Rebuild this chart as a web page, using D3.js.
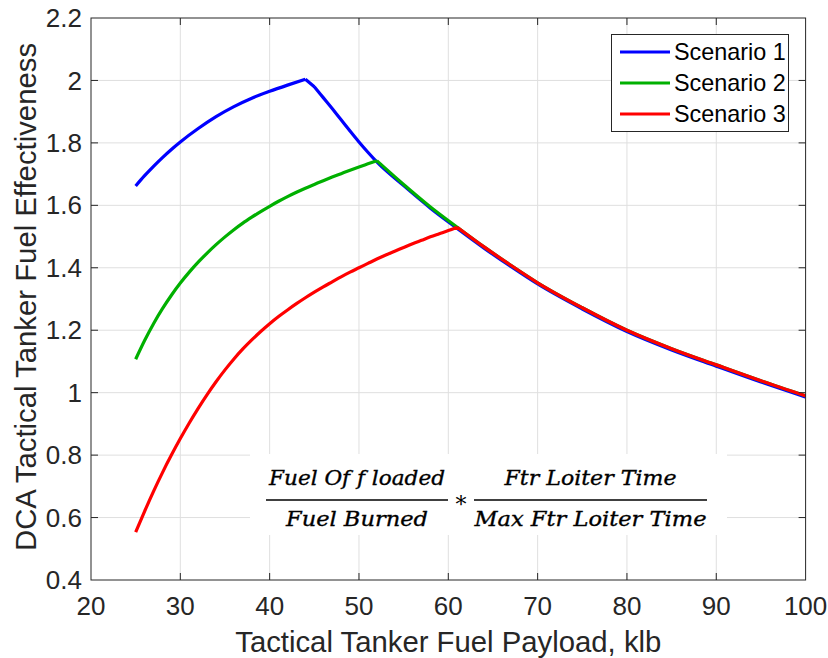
<!DOCTYPE html>
<html>
<head>
<meta charset="utf-8">
<script src="https://cdn.jsdelivr.net/npm/d3@7"></script>
<style>
  html, body { margin: 0; padding: 0; background: #fff; }
  svg { display: block; }
</style>
</head>
<body>
<svg id="chart" width="828" height="658"></svg>
<script>
// Tanker fuel payload (klb) and effectiveness for each scenario
const scenario1X = [25, 26, 27, 28, 29, 30, 32, 34, 36, 38, 40, 42, 44, 45, 46, 47, 48, 49, 50, 51, 52, 55, 58, 61, 64, 67, 70, 75, 80, 85, 90, 95, 100];
const scenario1Y = [1.662, 1.695, 1.725, 1.753, 1.779, 1.803, 1.846, 1.884, 1.916, 1.943, 1.965, 1.985, 2.004, 1.980, 1.945, 1.910, 1.874, 1.838, 1.803, 1.770, 1.739, 1.663, 1.591, 1.526, 1.463, 1.404, 1.348, 1.268, 1.196, 1.137, 1.085, 1.034, 0.986];

const scenario2X = [25, 26, 27, 28, 29, 30, 31, 32, 33, 34, 35, 36, 37, 38, 39, 40, 41, 42, 43, 44, 45, 46, 47, 48, 49, 50, 51, 52, 55, 58, 61, 64, 67, 70, 75, 80, 85, 90, 95, 100];
const scenario2Y = [1.107, 1.167, 1.221, 1.269, 1.312, 1.351, 1.386, 1.418, 1.447, 1.474, 1.499, 1.522, 1.543, 1.562, 1.580, 1.597, 1.613, 1.628, 1.642, 1.655, 1.667, 1.679, 1.6905, 1.7015, 1.7125, 1.723, 1.733, 1.743, 1.667, 1.595, 1.530, 1.467, 1.408, 1.352, 1.272, 1.200, 1.141, 1.089, 1.038, 0.990];

const scenario3X = [25, 26, 27, 28, 29, 30, 31, 32, 33, 34, 35, 36, 37, 38, 39, 40, 41, 42, 43, 44, 45, 46, 47, 48, 49, 50, 51, 52, 53, 54, 55, 56, 57, 58, 59, 60, 61, 64, 67, 70, 75, 80, 85, 90, 95, 100];
const scenario3Y = [0.553, 0.620, 0.684, 0.744, 0.800, 0.853, 0.903, 0.950, 0.994, 1.035, 1.073, 1.108, 1.140, 1.169, 1.196, 1.221, 1.244, 1.265, 1.285, 1.304, 1.322, 1.339, 1.355, 1.371, 1.386, 1.400, 1.414, 1.428, 1.441, 1.453, 1.465, 1.477, 1.488, 1.499, 1.509, 1.519, 1.530, 1.467, 1.408, 1.352, 1.272, 1.200, 1.141, 1.089, 1.038, 0.990];

// payloads where a curve changes regime (sharp corners)
const scenario1Corners = [44, 45];
const scenario2Corners = [52];
const scenario3Corners = [61];

const seriesNames = ["Scenario 1", "Scenario 2", "Scenario 3"];
const seriesColors = ["#0000ff", "#00b000", "#ff0000"];

const xTicks = [20, 30, 40, 50, 60, 70, 80, 90, 100];
const yTicks = [0.4, 0.6, 0.8, 1, 1.2, 1.4, 1.6, 1.8, 2, 2.2];

const xTitle = "Tactical Tanker Fuel Payload, klb";
const yTitle = "DCA Tactical Tanker Fuel Effectiveness";

const series = [
  { name: seriesNames[0], color: seriesColors[0], pts: d3.zip(scenario1X, scenario1Y), corners: scenario1Corners },
  { name: seriesNames[1], color: seriesColors[1], pts: d3.zip(scenario2X, scenario2Y), corners: scenario2Corners },
  { name: seriesNames[2], color: seriesColors[2], pts: d3.zip(scenario3X, scenario3Y), corners: scenario3Corners }
];

const svg = d3.select("#chart");
const font = "'Liberation Sans', Arial, Helvetica, sans-serif";
const axisColor = "#262626";

const pL = 91, pT = 18, pR = 805.6, pB = 580;
const x = d3.scaleLinear().domain([20, 100]).range([pL, pR]);
const y = d3.scaleLinear().domain([0.4, 2.2]).range([pB, pT]);

// grid
const grid = svg.append("g");
grid.selectAll("line.vx").data(xTicks.slice(1, -1)).join("line")
  .attr("x1", d => x(d)).attr("x2", d => x(d))
  .attr("y1", pT).attr("y2", pB)
  .attr("stroke", "#dfdfdf").attr("stroke-width", 1);
grid.selectAll("line.hy").data(yTicks.slice(1, -1)).join("line")
  .attr("x1", pL).attr("x2", pR)
  .attr("y1", d => y(d)).attr("y2", d => y(d))
  .attr("stroke", "#dfdfdf").attr("stroke-width", 1);

// formula box sits over the grid
const fx = svg.append("g");
fx.append("rect").attr("x", 250).attr("y", 454).attr("width", 477).attr("height", 81).attr("fill", "#fff");

// curves: smooth pieces joined at the regime corners
function pieces(pts, corners) {
  const out = [];
  let cur = [];
  pts.forEach(p => {
    cur.push(p);
    if (corners.includes(p[0])) { out.push(cur); cur = [p]; }
  });
  if (cur.length > 1) out.push(cur);
  return out;
}
const line = d3.line().x(d => x(d[0])).y(d => y(d[1])).curve(d3.curveMonotoneX);
svg.append("g").selectAll("path").data(series).join("path")
  .attr("d", d => pieces(d.pts, d.corners).map(p => line(p)).join(""))
  .attr("fill", "none")
  .attr("stroke", d => d.color)
  .attr("stroke-width", 3.2)
  .attr("stroke-linejoin", "round");

// formula text
const serif = "'DejaVu Serif', 'Liberation Serif', serif";
function frac(num, den, x0, x1, numW, denW) {
  const cx = (x0 + x1) / 2;
  [[num, 485, numW], [den, 526, denW]].forEach(([t, ty, w]) => {
    fx.append("text").attr("x", cx).attr("y", ty).attr("text-anchor", "middle")
      .attr("font-family", serif).attr("font-style", "italic").attr("font-size", 20.5)
      .attr("textLength", w).attr("lengthAdjust", "spacingAndGlyphs")
      .attr("fill", "#000").attr("stroke", "#000").attr("stroke-width", 0.35)
      .text(t);
  });
  fx.append("line").attr("x1", x0).attr("x2", x1).attr("y1", 500).attr("y2", 500)
    .attr("stroke", "#000").attr("stroke-width", 1.4);
}
frac("Fuel Of f loaded", "Fuel Burned", 266, 448, 176, 142);
fx.append("text").attr("x", 461).attr("y", 512).attr("text-anchor", "middle")
  .attr("font-family", serif).attr("font-size", 22).attr("fill", "#000").text("*");
frac("Ftr Loiter Time", "Max Ftr Loiter Time", 474, 707, 172, 232);

// axes box and ticks (inward on all four sides)
const ax = svg.append("g").attr("stroke", axisColor).attr("stroke-width", 1);
ax.append("rect").attr("x", pL).attr("y", pT).attr("width", pR - pL).attr("height", pB - pT)
  .attr("fill", "none");
const tl = 7;
xTicks.slice(1, -1).forEach(t => {
  ax.append("line").attr("x1", x(t)).attr("x2", x(t)).attr("y1", pB).attr("y2", pB - tl);
  ax.append("line").attr("x1", x(t)).attr("x2", x(t)).attr("y1", pT).attr("y2", pT + tl);
});
yTicks.slice(1, -1).forEach(t => {
  ax.append("line").attr("x1", pL).attr("x2", pL + tl).attr("y1", y(t)).attr("y2", y(t));
  ax.append("line").attr("x1", pR).attr("x2", pR - tl).attr("y1", y(t)).attr("y2", y(t));
});

// tick labels
svg.append("g").selectAll("text").data(xTicks).join("text")
  .attr("x", d => x(d)).attr("y", 615)
  .attr("text-anchor", "middle").attr("font-family", font).attr("font-size", 26)
  .attr("fill", axisColor).text(d => d);
svg.append("g").selectAll("text").data(yTicks).join("text")
  .attr("x", 82).attr("y", d => y(d)).attr("dy", "0.35em")
  .attr("text-anchor", "end").attr("font-family", font).attr("font-size", 26)
  .attr("fill", axisColor).text(d => d);

// axis titles
svg.append("text").attr("x", (pL + pR) / 2).attr("y", 652)
  .attr("text-anchor", "middle").attr("font-family", font).attr("font-size", 29.3)
  .attr("fill", axisColor).text(xTitle);
svg.append("text").attr("transform", `translate(36,${(pT + pB) / 2 - 2}) rotate(-90)`)
  .attr("text-anchor", "middle").attr("font-family", font).attr("font-size", 29.3)
  .attr("fill", axisColor).text(yTitle);

// legend
const lg = svg.append("g");
lg.append("rect").attr("x", 611.5).attr("y", 34.5).attr("width", 177).attr("height", 97)
  .attr("fill", "#fff").attr("stroke", axisColor).attr("stroke-width", 1);
const rowY = [52, 83, 114];
series.forEach((s, i) => {
  lg.append("line").attr("x1", 620).attr("x2", 670).attr("y1", rowY[i]).attr("y2", rowY[i])
    .attr("stroke", s.color).attr("stroke-width", 3.2);
  lg.append("text").attr("x", 674).attr("y", rowY[i]).attr("dy", "0.35em")
    .attr("font-family", font).attr("font-size", 23.4).attr("fill", "#000").text(s.name);
});
</script>
</body>
</html>
